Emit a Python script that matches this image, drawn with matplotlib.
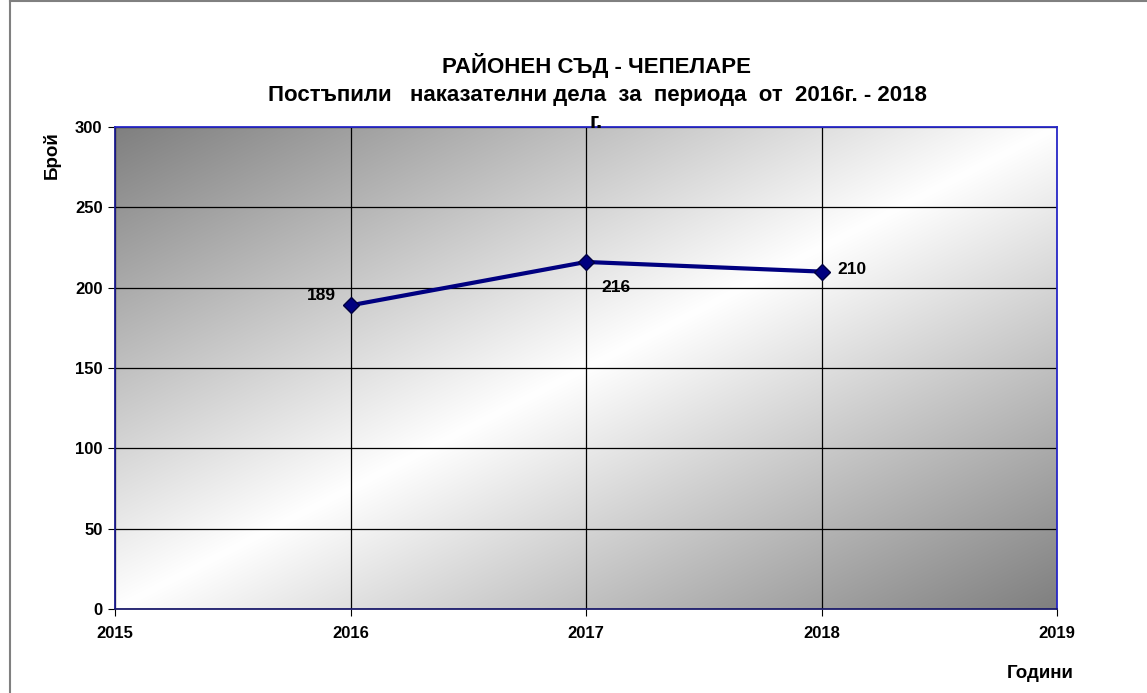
import numpy as np
import matplotlib
matplotlib.use("Agg")
import matplotlib.pyplot as plt
from matplotlib.lines import Line2D

plt.rcParams['font.family'] = ['Liberation Sans', 'DejaVu Sans']

years = [2016, 2017, 2018]
cases = [189, 216, 210]
x_ticks = [2015, 2016, 2017, 2018, 2019]
y_ticks = [0, 50, 100, 150, 200, 250, 300]
title_1 = "РАЙОНЕН СЪД - ЧЕПЕЛАРЕ"
title_2 = "Постъпили   наказателни дела  за  периода  от  2016г. - 2018"
title_3 = "г."

W, H = 1147, 693
fig = plt.figure(figsize=(W / 100, H / 100), dpi=100)
ax = fig.add_axes([115 / W, 1 - 609 / H, (1057 - 115) / W, (609 - 127) / H])

# diagonal gradient: dark at top-left and bottom-right, white along the middle
n = 300
u, v = np.meshgrid(np.linspace(0, 1, n), np.linspace(0, 1, n))
t = (u + v) / 2
g = 1 - np.abs(t - 0.5) * 2 * 0.5
g = np.clip(g, 0.5, 1)
img = np.dstack([g, g, g])
ax.imshow(img, extent=[0, 1, 0, 1], transform=ax.transAxes, aspect='auto',
          zorder=0, interpolation='bilinear')

ax.set_xlim(2015, 2019)
ax.set_ylim(0, 300)
ax.set_xticks(x_ticks)
ax.set_yticks(y_ticks)
ax.grid(True, color='black', linewidth=0.9, zorder=1)
ax.set_axisbelow(False)

ax.plot(years, cases, color='#000080', linewidth=3, marker='D', markersize=8,
        markeredgecolor='#000040', zorder=3)

offsets = [(-29, 10), (30, -26), (30, 2)]
for xv, yv, off in zip(years, cases, offsets):
    ax.annotate(str(yv), (xv, yv), xytext=off, textcoords='offset pixels',
                ha='center', va='center', fontsize=12.5, fontweight='bold', zorder=4)

for lab in ax.get_xticklabels() + ax.get_yticklabels():
    lab.set_fontweight('bold')
    lab.set_fontsize(12)
ax.tick_params(axis='x', length=5, pad=7, direction='out')
ax.tick_params(axis='y', length=5, pad=4, direction='out')

ax.spines['top'].set_color('#2828c8')
ax.spines['right'].set_color('#2828c8')
ax.spines['left'].set_color('#1c1c90')
ax.spines['bottom'].set_color('#1c1c6c')
for s in ax.spines.values():
    s.set_linewidth(1.3)
    s.set_zorder(5)

fig.text(596 / W, 1 - 65 / H, title_1, ha='center', va='center', fontsize=16, fontweight='bold')
fig.text(597 / W, 1 - 96 / H, title_2, ha='center', va='center', fontsize=16, fontweight='bold')
fig.text(596 / W, 1 - 122 / H, title_3, ha='center', va='center', fontsize=16, fontweight='bold')

fig.text(52 / W, 1 - 155 / H, "Брой", rotation=90, ha='center', va='center',
         fontsize=13.5, fontweight='bold')
fig.text(1040 / W, 1 - 673 / H, "Години", ha='center', va='center',
         fontsize=13.5, fontweight='bold')

# outer frame (left and top edges visible)
fig.add_artist(Line2D([10 / W, 10 / W], [0, 1 - 1 / H], transform=fig.transFigure,
                      color='#808080', linewidth=1.5))
fig.add_artist(Line2D([10 / W, 1], [1 - 1 / H, 1 - 1 / H], transform=fig.transFigure,
                      color='#808080', linewidth=1.5))

fig.savefig("out.png", dpi=100)
